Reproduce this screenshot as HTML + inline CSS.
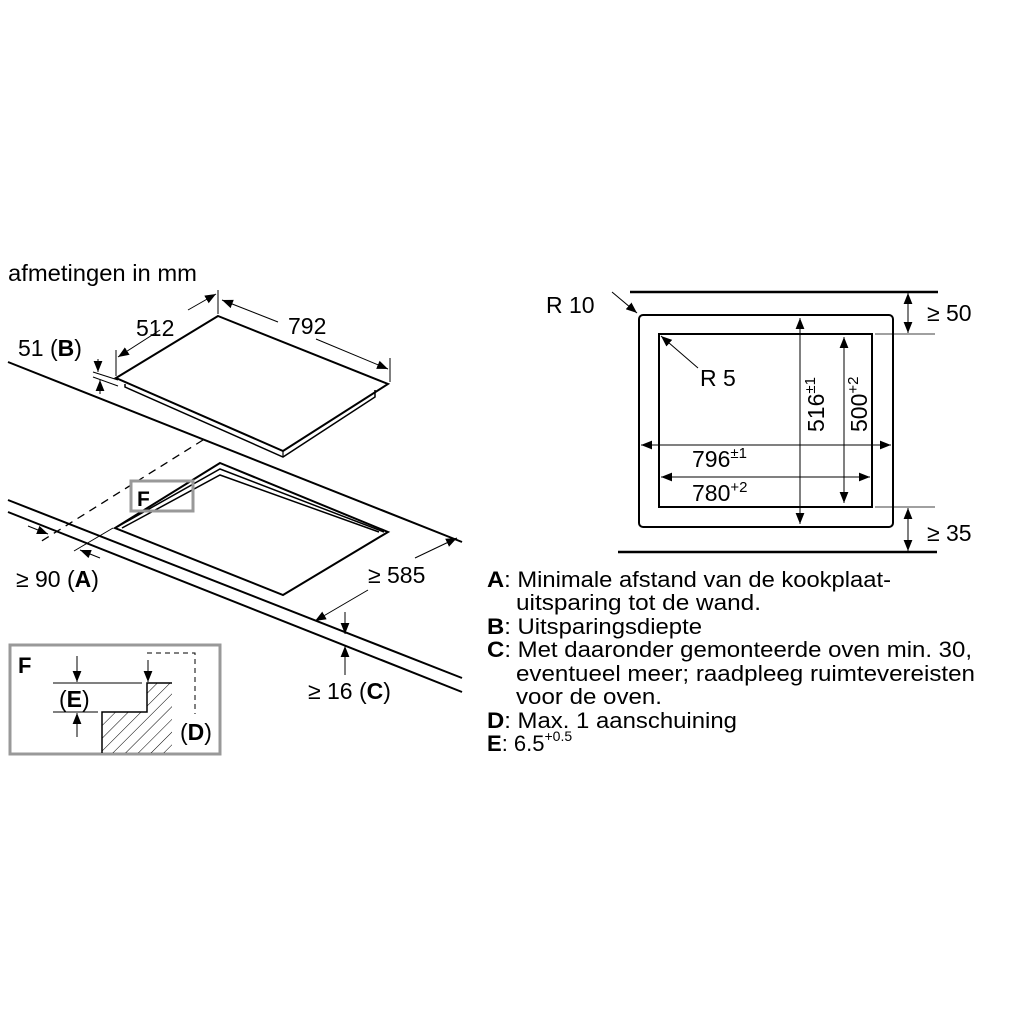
<!DOCTYPE html>
<html><head><meta charset="utf-8"><style>
html,body{margin:0;padding:0;background:#fff;}
svg{display:block;font-family:"Liberation Sans",Arial,sans-serif;}
</style></head><body>
<svg width="1024" height="1024" viewBox="0 0 1024 1024" xmlns="http://www.w3.org/2000/svg">
<defs>
<marker id="a" viewBox="0 0 10 10" refX="10" refY="5" markerWidth="11" markerHeight="11" markerUnits="userSpaceOnUse" orient="auto"><path d="M0,1 L10,5 L0,9 z" fill="#000"/></marker>
<pattern id="h" width="9" height="9" patternUnits="userSpaceOnUse" patternTransform="rotate(45)"><line x1="0" y1="0" x2="0" y2="9" stroke="#000" stroke-width="1"/></pattern>
</defs>
<g fill="#000" font-size="23">
<text x="8" y="281" textLength="189" lengthAdjust="spacingAndGlyphs">afmetingen in mm</text>
<text x="18" y="356">51 (<tspan font-weight="bold">B</tspan>)</text>
<text x="136" y="336">512</text>
<text x="288" y="334">792</text>
<text x="16" y="587">≥ 90 (<tspan font-weight="bold">A</tspan>)</text>
<text x="368" y="583">≥ 585</text>
<text x="308" y="699">≥ 16 (<tspan font-weight="bold">C</tspan>)</text>
</g>
<g stroke="#000" fill="none" stroke-width="2">
<line x1="8" y1="362" x2="462" y2="542"/>
<line x1="8" y1="500" x2="462" y2="678"/>
<line x1="8" y1="512" x2="462" y2="692"/>
<polygon points="218,316 388,384 283,451 116,378" fill="#fff"/>
<polyline points="125,384 125,387 283,457 375,397 375,390" stroke-width="1.5"/>
<line x1="283" y1="451" x2="283" y2="457" stroke-width="1.2"/>
<polygon points="220,463 388,532 283,595 115,528"/>
<polyline points="117,527 220,469 384,532" stroke-width="1.5"/>
<polyline points="122,528 220,475 379,532" stroke-width="1.5"/>
</g>
<line x1="203" y1="440" x2="40" y2="542" stroke="#000" stroke-width="1.3" stroke-dasharray="8,6"/>
<rect x="131" y="481" width="62" height="30" fill="none" stroke="#999" stroke-width="3"/>
<text x="137" y="506" font-weight="bold" font-size="21">F</text>
<g stroke="#000" stroke-width="1" fill="none">
<line x1="218" y1="290" x2="218" y2="314"/>
<line x1="116" y1="350" x2="116" y2="376"/>
<line x1="390" y1="358" x2="390" y2="382"/>
<line x1="160" y1="330" x2="118" y2="357" marker-end="url(#a)"/>
<line x1="188" y1="310" x2="216" y2="294" marker-end="url(#a)"/>
<line x1="278" y1="322" x2="222" y2="300" marker-end="url(#a)"/>
<line x1="316" y1="339" x2="388" y2="369" marker-end="url(#a)"/>
<line x1="93" y1="372" x2="118" y2="380"/>
<line x1="93" y1="377" x2="118" y2="386"/>
<line x1="98" y1="359" x2="98" y2="372" marker-end="url(#a)"/>
<line x1="100" y1="394" x2="100" y2="380" marker-end="url(#a)"/>
<line x1="28" y1="526" x2="48" y2="534" marker-end="url(#a)"/>
<line x1="100" y1="558" x2="80" y2="550" marker-end="url(#a)"/>
<line x1="74" y1="551" x2="113" y2="528"/>
<line x1="368" y1="590" x2="315" y2="621" marker-end="url(#a)"/>
<line x1="415" y1="558" x2="457" y2="538" marker-end="url(#a)"/>
<line x1="345" y1="612" x2="345" y2="634" marker-end="url(#a)"/>
<line x1="345" y1="675" x2="345" y2="646" marker-end="url(#a)"/>
</g>
<rect x="10" y="645" width="210" height="109" fill="none" stroke="#999" stroke-width="3"/>
<polygon points="102,753 102,712 147,712 147,683 172,683 172,753" fill="url(#h)" stroke="none"/>
<polyline points="102,753 102,712 147,712 147,683 172,683" fill="none" stroke="#000" stroke-width="1.5"/>
<g stroke="#000" stroke-width="1" fill="none">
<line x1="53" y1="683" x2="142" y2="683"/>
<line x1="53" y1="712" x2="98" y2="712"/>
<line x1="77" y1="656" x2="77" y2="682" marker-end="url(#a)"/>
<line x1="77" y1="737" x2="77" y2="713" marker-end="url(#a)"/>
<line x1="148" y1="660" x2="148" y2="682" marker-end="url(#a)"/>
<polyline points="147,653 195,653 195,714" stroke-dasharray="5,4"/>
</g>
<text x="18" y="673" font-weight="bold" font-size="22">F</text>
<text x="59" y="707" font-size="23">(<tspan font-weight="bold">E</tspan>)</text>
<text x="180" y="740" font-size="23">(<tspan font-weight="bold">D</tspan>)</text>
<g stroke="#000" fill="none">
<line x1="630" y1="292" x2="938" y2="292" stroke-width="2.5"/>
<line x1="618" y1="552" x2="937" y2="552" stroke-width="2.5"/>
<rect x="639" y="315" width="254" height="212" rx="4" stroke-width="2"/>
<rect x="659" y="334" width="213" height="173" stroke-width="2"/>
<line x1="875" y1="334" x2="935" y2="334" stroke-width="0.8"/>
<line x1="875" y1="507" x2="935" y2="507" stroke-width="0.8"/>
<g stroke-width="1">
<line x1="800" y1="360" x2="800" y2="318" marker-end="url(#a)"/>
<line x1="800" y1="360" x2="800" y2="524" marker-end="url(#a)"/>
<line x1="844" y1="400" x2="844" y2="337" marker-end="url(#a)"/>
<line x1="844" y1="400" x2="844" y2="503" marker-end="url(#a)"/>
<line x1="760" y1="445" x2="641" y2="445" marker-end="url(#a)"/>
<line x1="760" y1="445" x2="891" y2="445" marker-end="url(#a)"/>
<line x1="760" y1="477" x2="661" y2="477" marker-end="url(#a)"/>
<line x1="760" y1="477" x2="870" y2="477" marker-end="url(#a)"/>
<line x1="908" y1="313" x2="908" y2="293" marker-end="url(#a)"/>
<line x1="908" y1="313" x2="908" y2="333" marker-end="url(#a)"/>
<line x1="908" y1="530" x2="908" y2="508" marker-end="url(#a)"/>
<line x1="908" y1="530" x2="908" y2="551" marker-end="url(#a)"/>
<line x1="612" y1="292" x2="637" y2="313" marker-end="url(#a)"/>
<line x1="698" y1="368" x2="661" y2="336" marker-end="url(#a)"/>
</g>
</g>
<g fill="#000" font-size="23">
<text x="546" y="313">R 10</text>
<text x="700" y="386">R 5</text>
<text x="927" y="321">≥ 50</text>
<text x="927" y="541">≥ 35</text>
<text x="692" y="467">796<tspan font-size="15" dy="-9">±1</tspan></text>
<text x="692" y="501">780<tspan font-size="15" dy="-9">+2</tspan></text>
<text transform="translate(824,432) rotate(-90)">516<tspan font-size="15" dy="-9">±1</tspan></text>
<text transform="translate(867,432) rotate(-90)">500<tspan font-size="15" dy="-9">+2</tspan></text>
</g>
<g fill="#000" font-size="22">
<text x="487" y="587" textLength="404" lengthAdjust="spacingAndGlyphs"><tspan font-weight="bold">A</tspan>: Minimale afstand van de kookplaat-</text>
<text x="516" y="610" textLength="245" lengthAdjust="spacingAndGlyphs">uitsparing tot de wand.</text>
<text x="487" y="634" textLength="215" lengthAdjust="spacingAndGlyphs"><tspan font-weight="bold">B</tspan>: Uitsparingsdiepte</text>
<text x="487" y="657" textLength="485" lengthAdjust="spacingAndGlyphs"><tspan font-weight="bold">C</tspan>: Met daaronder gemonteerde oven min. 30,</text>
<text x="516" y="681" textLength="459" lengthAdjust="spacingAndGlyphs">eventueel meer; raadpleeg ruimtevereisten</text>
<text x="516" y="704" textLength="146" lengthAdjust="spacingAndGlyphs">voor de oven.</text>
<text x="487" y="728" textLength="250" lengthAdjust="spacingAndGlyphs"><tspan font-weight="bold">D</tspan>: Max. 1 aanschuining</text>
<text x="487" y="751"><tspan font-weight="bold">E</tspan>: 6.5<tspan font-size="14" dy="-10">+0.5</tspan></text>
</g>
</svg>
</body></html>
